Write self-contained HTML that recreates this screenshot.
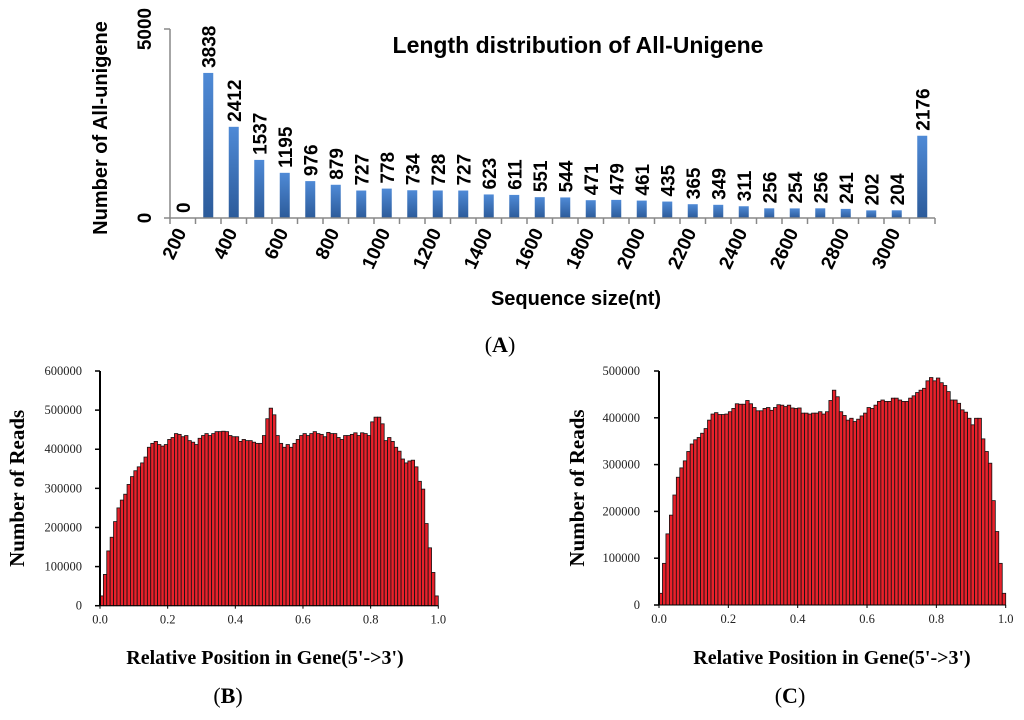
<!DOCTYPE html>
<html><head><meta charset="utf-8"><style>
html,body{margin:0;padding:0;background:#fff;width:1024px;height:720px;overflow:hidden}
svg{display:block}
.cal{font-family:"Liberation Sans",sans-serif;font-weight:bold}
.ser{font-family:"Liberation Serif",serif}
</style></head><body>
<svg id="fig" width="1024" height="720" viewBox="0 0 1024 720">
<defs>
<linearGradient id="bg" x1="0" y1="0" x2="0" y2="1"><stop offset="0" stop-color="#4f8ad6"/><stop offset="1" stop-color="#2c5b9a"/></linearGradient>
</defs>
<g id="pa"></g>
<g id="pb"></g>
<g id="pc"></g>
</svg>
<script>
const aCategories=[200,300,400,500,600,700,800,900,1000,1100,1200,1300,1400,1500,1600,1700,1800,1900,2000,2100,2200,2300,2400,2500,2600,2700,2800,2900,3000,3100];
const aValues=[0,3838,2412,1537,1195,976,879,727,778,734,728,727,623,611,551,544,471,479,461,435,365,349,311,256,254,256,241,202,204,2176];
const aTickLabels=["200","400","600","800","1000","1200","1400","1600","1800","2000","2200","2400","2600","2800","3000"];
const bValues=[25,80,140,175,215,250,270,285,310,330,345,355,365,380,405,415,420,412,408,412,425,430,440,438,432,435,422,418,412,428,435,440,435,440,445,445,446,445,435,432,432,420,425,422,422,418,415,415,435,478,505,488,435,415,405,412,405,415,425,435,440,435,440,445,440,438,432,443,440,440,430,425,435,435,438,442,435,442,440,435,470,482,482,465,422,430,420,405,395,375,365,370,372,355,318,298,210,148,85,25];
const cValues=[25,89,152,192,235,273,293,308,328,344,353,358,367,377,395,408,411,407,407,408,413,420,430,429,429,437,430,422,415,415,420,422,416,422,428,427,424,427,421,420,421,410,410,408,410,410,413,408,413,437,459,445,413,405,395,399,392,397,404,410,422,420,427,435,438,435,435,442,442,438,435,435,442,447,454,459,463,479,486,479,485,475,469,456,438,438,431,417,412,399,385,399,399,355,328,303,223,157,89,25];
const bYTicks=[0,100000,200000,300000,400000,500000,600000];
const cYTicks=[0,100000,200000,300000,400000,500000];
const xTicks=["0.0","0.2","0.4","0.6","0.8","1.0"];
const NS="http://www.w3.org/2000/svg";
function mk(p,t,a,txt){const e=document.createElementNS(NS,t);for(const k in a)e.setAttribute(k,a[k]);if(txt!==undefined)e.textContent=txt;p.appendChild(e);return e;}

// Panel A
(function(){
const g=document.getElementById('pa');
const x0=170,step=25.5,y0=218,yTop=29,ymax=5000;
const ys=v=>y0-(v/ymax)*(y0-yTop);
const xs=i=>x0+step*i+step/2;
let t=mk(g,'text',{x:578,y:53,class:'cal','font-size':23,'text-anchor':'middle'},'Length distribution of All-Unigene');

aValues.forEach((v,i)=>{
 let r=mk(g,'rect',{x:xs(i)-5,y:ys(v),width:10,height:y0-ys(v),fill:'url(#bg)'});
 
 let l=mk(g,'text',{class:'cal','font-size':19,transform:`translate(${xs(i)+7},${ys(v)-5}) rotate(-90)`},String(v));
 
});
mk(g,'line',{x1:x0,y1:yTop,x2:x0,y2:y0,stroke:'#888','stroke-width':1.5});
mk(g,'line',{x1:x0-6,y1:yTop,x2:x0,y2:yTop,stroke:'#888','stroke-width':1.5});
mk(g,'line',{x1:x0-6,y1:y0,x2:x0+step*aValues.length,y2:y0,stroke:'#888','stroke-width':1.5});
for(let i=0;i<=aValues.length;i++)mk(g,'line',{x1:x0+step*i,y1:y0,x2:x0+step*i,y2:y0+6,stroke:'#888','stroke-width':1.5});
[[0,y0],[5000,yTop]].forEach(([v,y])=>{let e=mk(g,'text',{class:'cal','font-size':19,'text-anchor':'middle',transform:`translate(${151},${y}) rotate(-90)`},String(v));});
aTickLabels.forEach((s,k)=>{let e=mk(g,'text',{class:'cal','font-size':19,'text-anchor':'end',transform:`translate(${xs(2*k)+4},${y0+14}) rotate(-65)`},s);});
t=mk(g,'text',{class:'cal','font-size':20,'text-anchor':'middle',transform:'translate(107,128) rotate(-90)'},'Number of All-unigene');

t=mk(g,'text',{class:'cal','font-size':20,'text-anchor':'middle',x:576,y:305},'Sequence size(nt)');

t=mk(g,'text',{class:'ser','font-size':22,'text-anchor':'middle',x:500,y:352},'');
mk(t,'tspan',{},'(');mk(t,'tspan',{'font-weight':'bold'},'A');mk(t,'tspan',{},')');

})();

function hist(id,vals,ticks,ymax,x0,x1,y0,yTop,labelX,titleX,xtitleX,letter,letterX){
const g=document.getElementById(id);
const ys=v=>y0-(v/ymax)*(y0-yTop);
const bw=(x1-x0)/vals.length;
vals.forEach((v,i)=>{
 let r=mk(g,'rect',{x:x0+bw*i,y:ys(v*1000),width:bw,height:y0-ys(v*1000),fill:'#e8212b',stroke:'#111','stroke-width':0.8});
 
});
mk(g,'line',{x1:x0,y1:yTop,x2:x0,y2:y0,stroke:'#000','stroke-width':2});
mk(g,'line',{x1:x0,y1:y0,x2:x1,y2:y0,stroke:'#000','stroke-width':1});
ticks.forEach(v=>{mk(g,'line',{x1:x0-5,y1:ys(v),x2:x0,y2:ys(v),stroke:'#000','stroke-width':1.5});
 let e=mk(g,'text',{class:'ser','font-size':12.5,'text-anchor':'end',x:labelX,y:ys(v)+4,fill:'#222'},String(v));});
xTicks.forEach((s,k)=>{const x=x0+(x1-x0)*k/5;mk(g,'line',{x1:x,y1:y0,x2:x,y2:y0+3,stroke:'#000'});
 let e=mk(g,'text',{class:'ser','font-size':12.5,'text-anchor':'middle',x:x,y:y0+18,fill:'#222'},s);});
let t=mk(g,'text',{class:'ser','font-size':21,'font-weight':'bold','text-anchor':'middle',transform:`translate(${titleX},${(y0+yTop)/2+0}) rotate(-90)`},'Number of Reads');

t=mk(g,'text',{class:'ser','font-size':20,'font-weight':'bold','text-anchor':'middle',x:xtitleX,y:664},"Relative Position in Gene(5'->3')");

t=mk(g,'text',{class:'ser','font-size':22,'text-anchor':'middle',x:letterX,y:703},'');
mk(t,'tspan',{},'(');mk(t,'tspan',{'font-weight':'bold'},letter);mk(t,'tspan',{},')');

}
hist('pb',bValues,bYTicks,600000,100,438.3,605.7,371,82,24,265,'B',228);
hist('pc',cValues,cYTicks,500000,659,1005.7,605,371,640,584,832,'C',790);
</script>
</body></html>
